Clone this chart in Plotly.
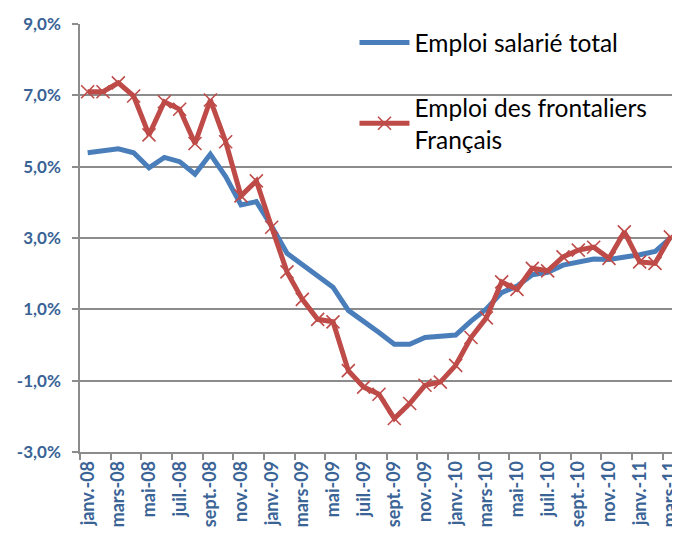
import plotly.graph_objects as go

months = ["janv.", "févr.", "mars", "avr.", "mai", "juin", "juil.", "août", "sept.", "oct.", "nov.", "déc."]
categories = []
for yr in ["08", "09", "10", "11"]:
    for m in months:
        categories.append(f"{m}-{yr}")
categories = categories[:39]  # janv.-08 .. mars-11

emploi_total = [5.39, 5.45, 5.50, 5.39, 4.97, 5.26, 5.14, 4.79, 5.35, 4.72,
                3.93, 4.02, 3.33, 2.57, 2.24, 1.91, 1.62, 0.97, 0.67, 0.35,
                0.02, 0.02, 0.21, 0.26, 0.28, 0.67, 1.01, 1.47, 1.65, 1.97,
                2.04, 2.24, 2.33, 2.41, 2.40, 2.46, 2.53, 2.62, 3.00]

emploi_frontaliers = [7.10, 7.10, 7.35, 6.98, 5.89, 6.82, 6.61, 5.65, 6.87, 5.70,
                      4.18, 4.60, 3.30, 2.05, 1.28, 0.72, 0.65, -0.72, -1.18, -1.38,
                      -2.06, -1.64, -1.13, -1.04, -0.57, 0.21, 0.76, 1.77, 1.56, 2.15,
                      2.08, 2.47, 2.66, 2.74, 2.43, 3.17, 2.33, 2.29, 3.03]

tick_cats = categories[::2]
y_ticks = [-3, -1, 1, 3, 5, 7, 9]
y_labels = ["-3,0%", "-1,0%", "1,0%", "3,0%", "5,0%", "7,0%", "9,0%"]

blue = "#4A7EBB"
red = "#BE4B48"
label_col = "#3A6396"
grid_col = "#8C8C8C"
font_fam = "Lato, 'Open Sans', sans-serif"

fig = go.Figure()
fig.add_trace(go.Scatter(
    x=categories, y=emploi_total, mode="lines", name="Emploi salarié total",
    line=dict(color=blue, width=5), legendgroup="a"))
fig.add_trace(go.Scatter(
    x=categories, y=emploi_frontaliers, mode="lines+markers",
    name="Emploi des frontaliers<br>Français",
    line=dict(color=red, width=5),
    marker=dict(symbol="x-thin", size=13, line=dict(color=red, width=1.6)),
    legendgroup="b"))

fig.update_layout(
    width=672, height=520,
    margin=dict(l=72, r=2, t=16, b=76),
    paper_bgcolor="white", plot_bgcolor="white",
    showlegend=True,
    legend=dict(x=0.459, y=1.0093, xanchor="left", yanchor="top",
                font=dict(family=font_fam, size=24.5, color="black"),
                bgcolor="rgba(0,0,0,0)", tracegroupgap=30, traceorder="grouped",
                itemwidth=50),
    xaxis=dict(
        type="category", categoryorder="array", categoryarray=categories,
        range=[-0.5, 38.5], automargin=False,
        tickmode="array", tickvals=tick_cats, ticktext=tick_cats,
        tickson="boundaries", ticks="outside", ticklen=6, tickcolor=grid_col, tickwidth=1.5,
        tickangle=-90, ticklabeloverflow="allow",
        tickfont=dict(family=font_fam, size=18, color=label_col, weight="bold"),
        showgrid=False, showline=True, linecolor=grid_col, linewidth=1.5,
        zeroline=False),
    yaxis=dict(
        range=[-3, 9], tickmode="array", tickvals=y_ticks, ticktext=y_labels,
        automargin=False,
        ticks="outside", ticklen=6, tickcolor=grid_col, tickwidth=1.5,
        tickfont=dict(family=font_fam, size=17, color=label_col, weight="bold"),
        showgrid=True, gridcolor=grid_col, gridwidth=1.5,
        showline=True, linecolor=grid_col, linewidth=1.5,
        zeroline=False, ticklabelstandoff=8),
)

fig.write_html("out.html")
